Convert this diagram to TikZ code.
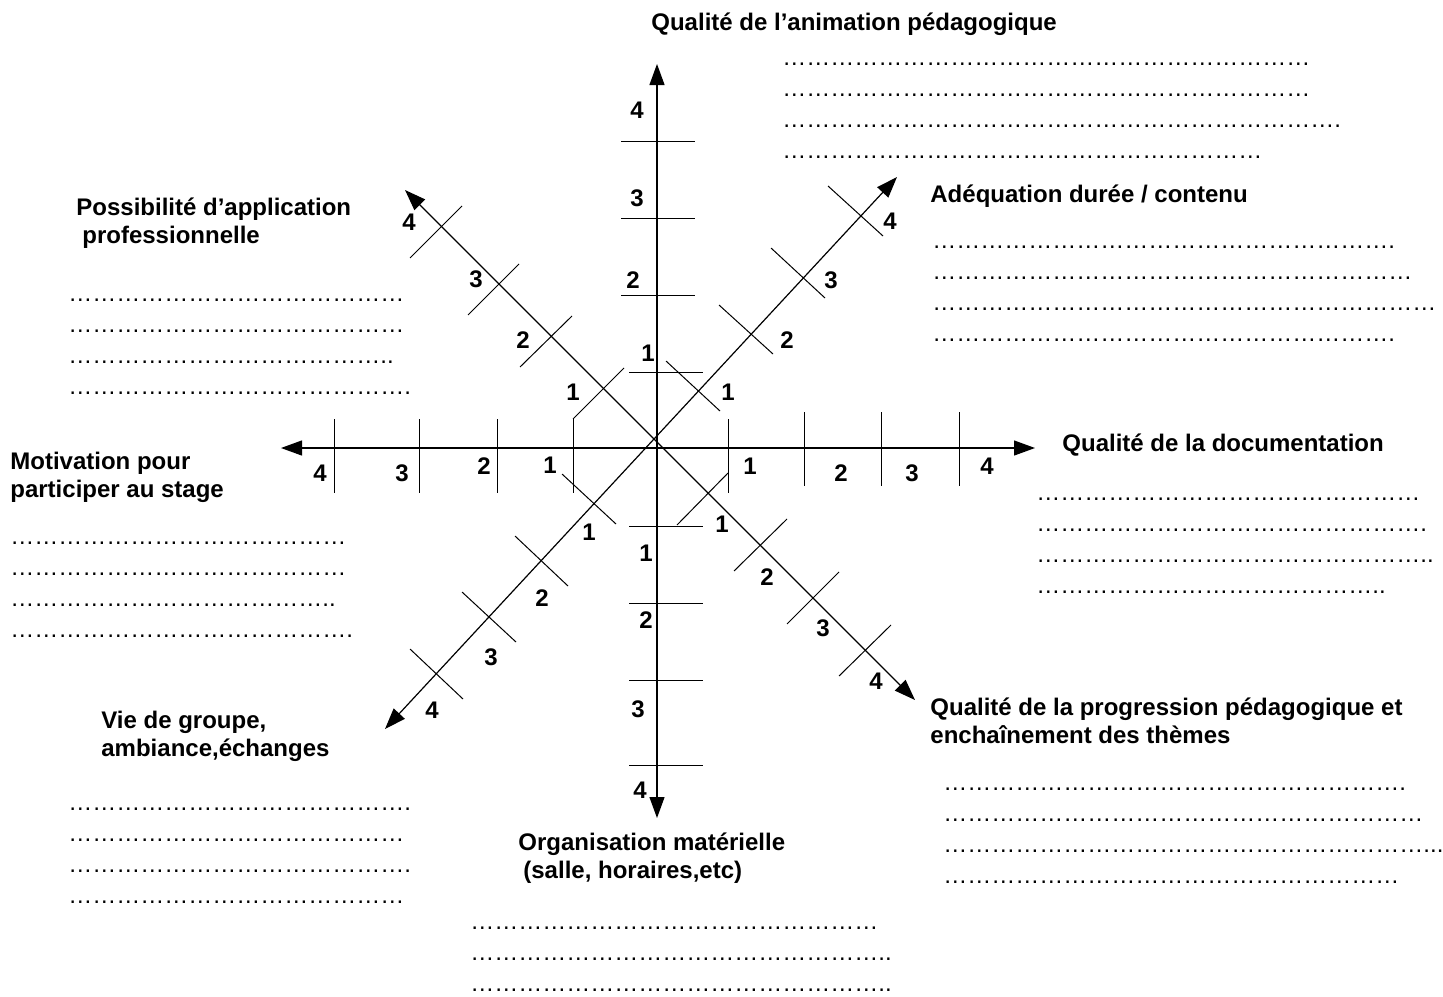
\documentclass[tikz,border=0pt]{standalone}
\usepackage{fontspec}
\setmainfont{Liberation Sans}
\usetikzlibrary{arrows.meta}
\newcommand{\dotrow}[2]{\foreach \k in {1,...,#1}{…}#2}

\begin{document}
\begin{tikzpicture}[x=0.5pt, y=-0.5pt, >={Triangle[length=10.5pt, width=7.5pt]},
 axis/.style={<->, line width=0.6pt},
 tick/.style={line width=0.5pt},
 num/.style={font=\fontsize{12}{14}\selectfont\bfseries, inner sep=0pt},
 head/.style={font=\fontsize{12}{14}\selectfont\bfseries, align=left, anchor=base west, inner sep=0pt},
 dots/.style={font=\fontsize{12}{15.4}\selectfont, align=left, anchor=base west, inner sep=0pt}]
 \useasboundingbox (0,0) rectangle (1443,996);
 \coordinate (N) at (657,64);
 \coordinate (S) at (657,818);
 \coordinate (W) at (281,448);
 \coordinate (E) at (1035,448);
 \coordinate (NE) at (897,177);
 \coordinate (SW) at (385,729);
 \coordinate (NW) at (405,190);
 \coordinate (SE) at (915,700);
 \draw[axis] (S) -- (N);
 \draw[axis] (W) -- (E);
 \draw[axis] (SW) -- (NE);
 \draw[axis] (NW) -- (SE);
 \foreach \xa/\ya/\xb/\yb in {621/141/695/141, 621/218/695/218, 621/295/695/295, 629/372/703/372,
 629/526/703/526, 629/603/703/603, 629/680/703/680, 629/765/703/765,
 334/419/334/493, 419/419/419/493, 497/419/497/493, 573/419/573/493,
 728/419/728/493, 804/412/804/486, 881/412/881/486, 959/412/959/486,
 666/361/720/411, 719/305/773/354, 771/248/825/298, 828/186/883/236,
 728/473/677/525, 787/519/734/571, 839/572/787/624, 891/625/839/676,
 562/474/616/524, 515/536/568/586, 462/592/516/642, 410/649/463/699,
 573/419/624/368, 572/316/520/367, 519/264/468/315, 462/206/410/258}
 \draw[tick] (\xa,\ya) -- (\xb,\yb);
 \foreach \x/\y/\t [count=\i] in {637/110/4, 637/198/3, 633/280/2, 648/353/1,
 646/553/1, 646/620/2, 638/709/3, 640/790/4,
 320/473/4, 402/473/3, 484/466/2, 550/465/1,
 750/466/1, 841/473/2, 912/473/3, 987/466/4,
 728/392/1, 787/340/2, 831/280/3, 890/221/4,
 722/524/1, 767/577/2, 823/628/3, 876/681/4,
 589/532/1, 542/598/2, 491/657/3, 432/710/4,
 573/392/1, 523/340/2, 476/279/3, 409/222/4}
 \node[num] (n\i) at (\x,\y) {\t};
 \node[head] (qanim) at (651,30) {Qualité de l’animation pédagogique};
 \node[dots] (qanimdots) at (782,158) {\dotrow{22}{}\\\dotrow{22}{}\\\dotrow{23}{.}\\\dotrow{20}{}};
 \node[head] (adeq) at (930,202) {Adéquation durée / contenu};
 \node[dots] (adeqdots) at (932,341) {\dotrow{19}{.}\\\dotrow{20}{}\\\dotrow{21}{}\\\dotrow{19}{.}};
 \node[head] (possib) at (76,243) {Possibilité d’application\\\hspace*{3pt}professionnelle};
 \node[dots] (possibdots) at (68,394) {\dotrow{14}{}\\\dotrow{14}{}\\\dotrow{13}{..}\\\dotrow{14}{.}};
 \node[head] (motiv) at (10,497) {Motivation pour\\participer au stage};
 \node[dots] (motivdots) at (10,637) {\dotrow{14}{}\\\dotrow{14}{}\\\dotrow{13}{..}\\\dotrow{14}{.}};
 \node[head] (qdoc) at (1062,451) {Qualité de la documentation};
 \node[dots] (qdocdots) at (1036,593) {\dotrow{16}{}\\\dotrow{16}{.}\\\dotrow{16}{..}\\\dotrow{14}{..}};
 \node[head] (vie) at (101,756) {Vie de groupe,\\ambiance,échanges};
 \node[dots] (viedots) at (68,903) {\dotrow{14}{.}\\\dotrow{14}{}\\\dotrow{14}{.}\\\dotrow{14}{}};
 \node[head] (qprog) at (930,743) {Qualité de la progression pédagogique et\\enchaînement des thèmes};
 \node[dots] (qprogdots) at (943,883) {\dotrow{19}{.}\\\dotrow{20}{}\\\dotrow{20}{...}\\\dotrow{19}{}};
 \node[head] (orga) at (518,878) {Organisation matérielle\\\hspace*{2.5pt}(salle, horaires,etc)};
 \node[dots] (orgadots) at (470,991) {\dotrow{17}{}\\\dotrow{17}{..}\\\dotrow{17}{..}};
\end{tikzpicture}
\end{document}
